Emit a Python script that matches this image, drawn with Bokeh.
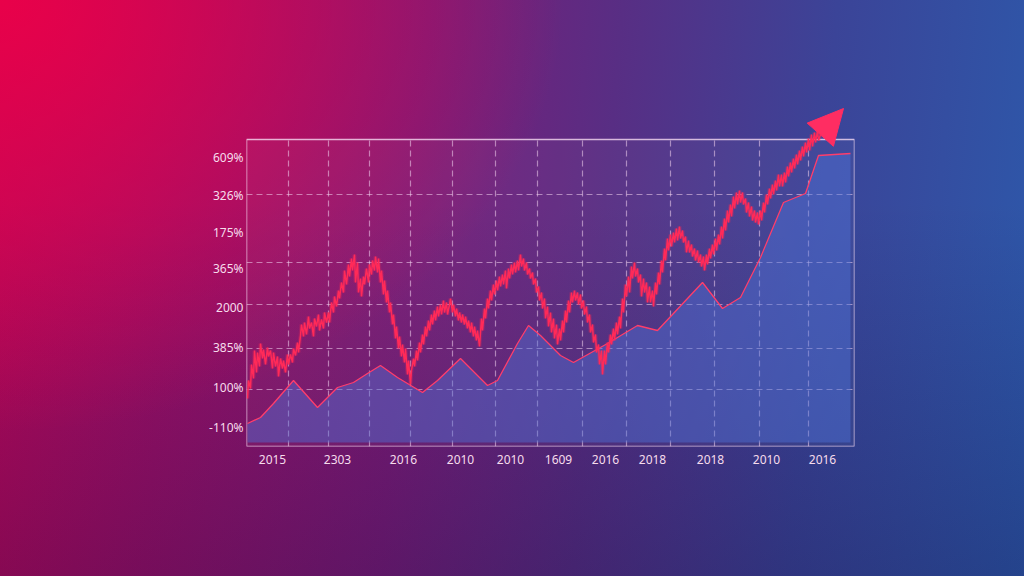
from bokeh.plotting import figure
from bokeh.models import Range1d, FixedTicker, Arrow, NormalHead, GlobalInlineStyleSheet, BoxAnnotation
from bokeh.embed import file_html
from bokeh.resources import INLINE

# ---------------- data ----------------
red_x = [247,248,250,251,253,254,256,257,259,260,262,263,265,267,268,270,272,273,275,277,278,280,282,283,285,287,288,290,292,293,295,297,298,300,
         301,303,304,306,308,309,311,313,314,316,318,319,321,323,324,326,328,329,331,333,334,336,338,339,341,343,344,
         346,348,349,351,352,354,355,357,358,360,361,363,364,366,368,369,371,372,374,375,377,378,380,381,383,384,386,387,389,390,392,393,395,396,398,399,401,402,404,405,407,408,410,411,
         413,414,416,417,419,420,422,423,425,426,428,429,431,432,434,435,437,438,440,441,443,444,446,447,449,450,452,453,455,456,458,459,461,462,464,465,467,468,470,471,473,474,476,477,479,
         481,482,484,485,487,488,490,491,493,494,496,497,499,500,502,503,505,506,508,509,511,512,514,515,517,518,520,521,523,524,526,527,529,530,532,533,535,536,538,539,541,542,544,545,547,548,550,551,553,554,556,557,
         559,560,562,563,565,566,568,569,571,572,574,575,577,578,580,581,583,584,586,587,589,590,592,593,595,596,598,599,601,602,604,605,
         607,608,610,611,613,614,616,617,619,620,622,623,625,626,628,629,631,632,634,635,637,638,640,641,643,644,646,647,649,650,652,653,655,656,658,659,661,662,664,665,
         667,668,670,671,673,674,676,677,679,680,682,683,685,686,688,689,691,692,694,695,697,698,700,701,703,704,706,707,709,710,712,713,715,716,718,719,721,722,724,725,727,728,730,731,733,734,736,737,739,740,742,743,
         745,746,748,749,751,752,754,755,757,758,760,761,763,764,766,767,769,770,772,773,775,776,778,779,781,782,784,785,787,788,790,791,793,794,796,797,799,800,802,803,805,806,808,809,811,812,814,815,817,818,820]
red_y = [44,62,54,78,64,92,70,90,76,99,84,93,78,95,86,92,74,90,76,86,66,84,74,82,70,88,78,88,80,94,87,100,90,107,
         118,106,120,108,126,114,120,106,124,116,128,112,123,114,130,120,130,120,140,130,146,136,152,144,160,150,172,
         158,178,166,184,172,188,160,180,150,164,146,166,158,174,160,178,168,182,172,186,170,184,160,172,148,162,140,152,130,140,118,128,104,116,94,106,86,98,80,94,68,82,58,72,
         84,76,92,82,100,90,108,98,116,106,122,112,128,118,132,122,136,126,138,128,142,130,140,128,138,144,130,138,126,134,122,130,120,128,118,126,114,122,110,120,106,116,102,112,96,
         124,112,134,124,144,134,152,142,158,148,162,152,166,156,168,158,172,154,174,164,178,168,180,170,182,172,188,176,184,172,180,168,174,164,170,158,164,150,156,142,150,134,144,124,136,116,130,110,124,104,118,98,
         114,102,122,110,132,120,142,130,150,140,152,142,150,138,148,134,142,128,136,120,128,110,118,100,108,90,98,78,92,68,92,78,
         100,90,108,98,114,102,120,108,126,114,144,130,158,146,166,150,176,164,180,166,174,160,168,146,164,150,160,140,156,140,152,136,160,148,170,158,182,170,194,182,
         204,192,208,196,210,200,214,202,216,204,212,200,206,190,202,190,198,186,194,182,192,180,188,176,186,172,188,178,194,184,198,188,204,192,208,198,216,204,224,212,232,220,238,226,246,234,250,238,252,240,250,238,
         244,230,240,226,236,222,232,220,230,218,232,222,240,230,248,238,254,244,258,248,262,252,268,256,268,256,270,260,276,266,280,270,284,274,288,278,292,282,296,286,300,290,304,292,308,296,310,300,312,302,308]

trend_x = [247,260,273,293,317,337,353,367,380,397,422,437,460,487,497,517,528,540,560,573,607,637,657,702,722,740,760,783,805,818,850]
trend_y = [19,25,39,62,35,55,60,69,77,65,50,62,84,57,62,99,117,107,87,80,99,117,112,160,134,145,185,240,249,287,289]

arrow_tip = (843, 334)

# chart extent (value/date units)
x_min, x_max = 246, 854
y_min, y_max = -4, 303
y_headroom = 345          # space above the chart box for the arrow head

y_tick_levels = [285, 247, 210, 174, 135, 95, 55, 15]
y_tick_labels = ["609%", "326%", "175%", "365%", "2000", "385%", "100%", "-110%"]
y_grid_levels = [248, 180, 138, 94, 53]

x_tick_pos = [272, 337, 403, 460, 510, 558, 605, 652, 710, 766, 822]
x_tick_labels = ["2015", "2303", "2016", "2010", "2010", "1609", "2016", "2018", "2018", "2010", "2016"]
x_grid_pos = [288, 328, 369, 410, 452, 495, 537, 582, 626, 670, 714, 759, 808]

# ---------------- page background ----------------
bg_css = GlobalInlineStyleSheet(css="""
html { min-height: 100%;
  background:
    radial-gradient(ellipse 55% 75% at 0% 0%, rgba(238,0,72,0.9) 0%, rgba(238,0,72,0) 100%),
    linear-gradient(180deg, rgba(10,5,50,0) 35%, rgba(10,5,50,0.25) 100%),
    linear-gradient(95deg, #b8085a 0%, #9a1068 18%, #7a1c78 40%, #582e84 58%, #3b4498 78%, #2d58aa 100%);
}
body { background: transparent; }
""")

p = figure(width=1008, height=560, output_backend="svg", toolbar_location=None,
           x_range=Range1d(x_min, x_max), y_range=Range1d(y_min, y_headroom),
           min_border_left=246, min_border_right=154, min_border_top=97, min_border_bottom=114,
           stylesheets=[bg_css])
p.border_fill_alpha = 0
p.background_fill_alpha = 0
p.outline_line_color = None

# chart box
p.add_layout(BoxAnnotation(left=x_min, right=x_max, bottom=y_min, top=y_max,
                           fill_color="white", fill_alpha=0.03,
                           line_color="#f6dcf2", line_alpha=0.8, line_width=1.5, level="underlay"))

# axes
for ax in (p.xaxis, p.yaxis):
    ax.axis_line_color = None
    ax.major_tick_line_color = None
    ax.minor_tick_line_color = None
    ax.major_tick_out = 0
    ax.major_tick_in = 0
    ax.major_label_text_color = "#f6dcec"
    ax.major_label_text_font = "Noto Sans"
    ax.major_label_text_font_size = "12px"
p.yaxis.ticker = FixedTicker(ticks=y_tick_levels)
p.yaxis.major_label_overrides = {t: l for t, l in zip(y_tick_levels, y_tick_labels)}
p.yaxis.major_label_standoff = 3
p.xaxis.ticker = FixedTicker(ticks=x_tick_pos)
p.xaxis.major_label_standoff = 8
p.xaxis.major_label_overrides = {t: l for t, l in zip(x_tick_pos, x_tick_labels)}

# horizontal grid (spans the box width)
p.ygrid.ticker = FixedTicker(ticks=y_grid_levels)
p.ygrid.grid_line_color = "#f2d2ee"
p.ygrid.grid_line_alpha = 0.55
p.ygrid.grid_line_dash = "6 4"
p.ygrid.grid_line_width = 1.2
# vertical grid, limited to the box height
p.xgrid.visible = False
p.segment(x0=x_grid_pos, x1=x_grid_pos, y0=[y_min] * len(x_grid_pos), y1=[y_max] * len(x_grid_pos),
          line_color="#f2d2ee", line_alpha=0.55, line_dash="6 4", line_width=1.2, level="underlay")

# area + trend line
p.varea(x=trend_x, y1=[0] * len(trend_x), y2=trend_y, fill_color="#4d72d8", fill_alpha=0.45)
p.line(trend_x, trend_y, line_color="#ff3d6b", line_width=1.3)

# jagged price line (with a soft glow)
p.line(red_x, red_y, line_color="#ff2a58", line_width=4, line_alpha=0.22)
p.line(red_x, red_y, line_color="#ff2a58", line_width=1.5)

# arrow head at the end of the price line
p.add_layout(Arrow(end=NormalHead(size=35, fill_color="#ff2d62", line_color="#ff2d62"),
                   x_start=red_x[-1], y_start=red_y[-1], x_end=arrow_tip[0], y_end=arrow_tip[1],
                   line_color="#ff2d62", line_width=1.6))

open("out.html", "w").write(file_html(p, INLINE))
